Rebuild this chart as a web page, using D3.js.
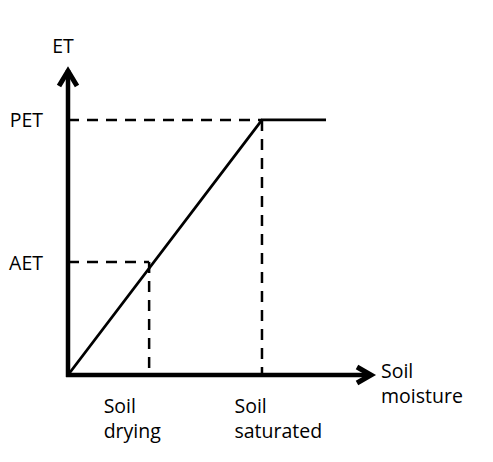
<!DOCTYPE html>
<html>
<head>
<meta charset="utf-8">
<script src="https://cdn.jsdelivr.net/npm/d3@7"></script>
<style>
  html, body { margin: 0; padding: 0; background: #fff; }
  svg text { font-family: "Open Sans", "Noto Sans", sans-serif; font-size: 19.5px; fill: #000; }
</style>
</head>
<body>
<svg id="chart" width="493" height="462"></svg>
<script>
// Conceptual ET vs. soil-moisture diagram (unitless 0–10 scales)
const moistureLevels = ["Soil drying", "Soil saturated"];
const moistureValues = [2.66, 6.36];
const etLabels = ["AET", "PET"];
const etValues = [3.68, 8.31];
const curveMoisture = [0, 6.36, 8.46];
const curveET = [0, 8.31, 8.31];
const axisTitles = { x: ["Soil", "moisture"], y: "ET" };

const svg = d3.select("#chart");
const x = d3.scaleLinear().domain([0, 10]).range([68, 373]);
const y = d3.scaleLinear().domain([0, 10]).range([375, 68]);

// dashed guides from each axis to the curve
const dash = "11,8";
etValues.forEach((v, i) => {
  svg.append("line")
    .attr("x1", x(0)).attr("x2", x(moistureValues[i]))
    .attr("y1", y(v)).attr("y2", y(v))
    .attr("stroke", "#000").attr("stroke-width", 2.5).attr("stroke-dasharray", dash);
  svg.append("line")
    .attr("x1", x(moistureValues[i])).attr("x2", x(moistureValues[i]))
    .attr("y1", y(v)).attr("y2", y(0))
    .attr("stroke", "#000").attr("stroke-width", 2.5).attr("stroke-dasharray", dash);
});

// ET response curve
const curve = curveMoisture.map((m, i) => [m, curveET[i]]);
svg.append("path")
  .datum(curve)
  .attr("d", d3.line().x(d => x(d[0])).y(d => y(d[1])))
  .attr("fill", "none").attr("stroke", "#000").attr("stroke-width", 2.8)
  .attr("stroke-linejoin", "miter");

// axes with tick labels, no tick marks
const yAxis = d3.axisLeft(y).tickValues(etValues)
  .tickFormat((d, i) => etLabels[i]).tickSize(0).tickPadding(25);
const gy = svg.append("g").attr("transform", `translate(${x(0)},0)`).call(yAxis);
gy.select(".domain").remove();
gy.selectAll("text").attr("font-size", null).attr("font-family", null).attr("dy", "0.36em");

const xAxis = d3.axisBottom(x).tickValues(moistureValues)
  .tickFormat((d, i) => moistureLevels[i]).tickSize(0);
const gx = svg.append("g").attr("transform", `translate(0,${y(0)})`).call(xAxis);
gx.select(".domain").remove();
gx.selectAll("text")
  .attr("font-size", null).attr("font-family", null)
  .attr("text-anchor", "start").attr("y", 0).attr("dy", null)
  .each(function (d, i) {
    const t = d3.select(this);
    const words = moistureLevels[i].split(" ");
    t.text(null);
    words.forEach((w, k) => {
      t.append("tspan").attr("x", -46 + (i === 0 ? 0 : 18)).attr("y", 38 + k * 25).text(w);
    });
  });

// axis lines with open arrowheads
svg.append("line")
  .attr("x1", x(0)).attr("x2", x(0)).attr("y1", y(0) + 2).attr("y2", y(10) + 2)
  .attr("stroke", "#000").attr("stroke-width", 4.5);
svg.append("polyline")
  .attr("points", [[x(0) - 9, y(10) + 18], [x(0), y(10) + 3], [x(0) + 9, y(10) + 18]].map(p => p.join(",")).join(" "))
  .attr("fill", "none").attr("stroke", "#000").attr("stroke-width", 5).attr("stroke-linejoin", "miter");

svg.append("line")
  .attr("x1", x(0) - 2).attr("x2", x(10) - 2).attr("y1", y(0)).attr("y2", y(0))
  .attr("stroke", "#000").attr("stroke-width", 4.5);
svg.append("polyline")
  .attr("points", [[x(10) - 16, y(0) - 8], [x(10) - 2, y(0)], [x(10) - 16, y(0) + 8]].map(p => p.join(",")).join(" "))
  .attr("fill", "none").attr("stroke", "#000").attr("stroke-width", 5).attr("stroke-linejoin", "miter");

// axis titles
svg.append("text").attr("x", x(0) - 5).attr("y", 53).attr("text-anchor", "middle").text(axisTitles.y);
const xt = svg.append("text").attr("x", 381).attr("y", 378);
axisTitles.x.forEach((w, k) => xt.append("tspan").attr("x", 381).attr("y", 378 + k * 25).text(w));
</script>
</body>
</html>
